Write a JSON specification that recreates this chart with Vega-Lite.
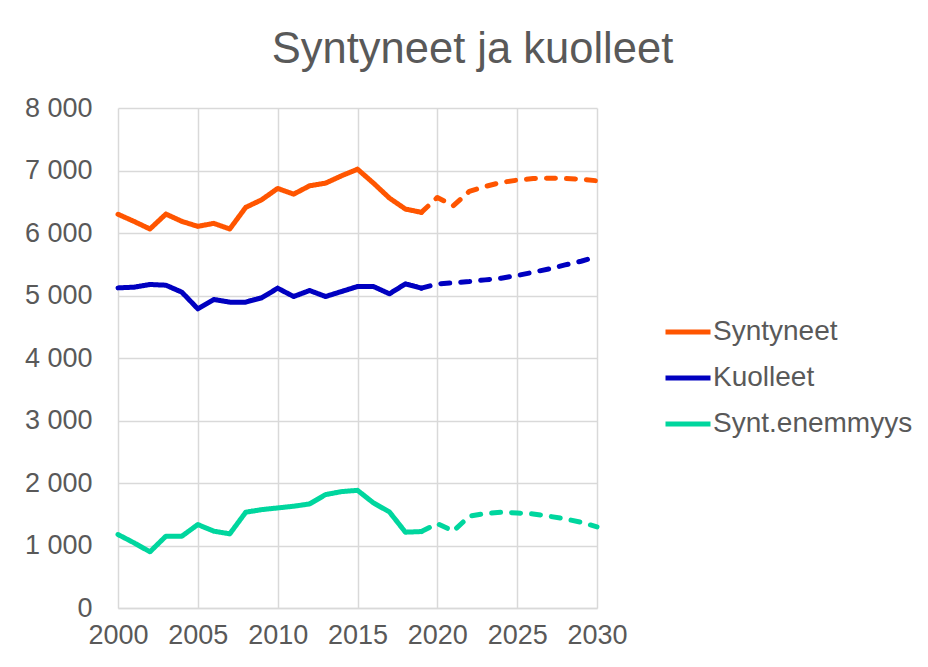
{
  "$schema": "https://vega.github.io/schema/vega-lite/v6.json",
  "width": 479,
  "height": 500,
  "autosize": {"type": "none"},
  "padding": {"left": 118, "top": 108, "right": 331, "bottom": 59},
  "background": "white",
  "title": {
    "text": "Syntyneet ja kuolleet",
    "font": "Liberation Sans",
    "fontSize": 43.5,
    "fontWeight": "normal",
    "color": "#595959",
    "anchor": "middle",
    "dx": 115,
    "offset": 22
  },
  "config": {
    "view": {"stroke": null},
    "font": "Liberation Sans"
  },
  "data": {
    "values": [
      {"year": 2000, "series": "Syntyneet", "kind": "a", "value": 6300},
      {"year": 2001, "series": "Syntyneet", "kind": "a", "value": 6186},
      {"year": 2002, "series": "Syntyneet", "kind": "a", "value": 6064},
      {"year": 2003, "series": "Syntyneet", "kind": "a", "value": 6303},
      {"year": 2004, "series": "Syntyneet", "kind": "a", "value": 6186},
      {"year": 2005, "series": "Syntyneet", "kind": "a", "value": 6106},
      {"year": 2006, "series": "Syntyneet", "kind": "a", "value": 6154},
      {"year": 2007, "series": "Syntyneet", "kind": "a", "value": 6064},
      {"year": 2008, "series": "Syntyneet", "kind": "a", "value": 6410},
      {"year": 2009, "series": "Syntyneet", "kind": "a", "value": 6532},
      {"year": 2010, "series": "Syntyneet", "kind": "a", "value": 6713},
      {"year": 2011, "series": "Syntyneet", "kind": "a", "value": 6622},
      {"year": 2012, "series": "Syntyneet", "kind": "a", "value": 6755},
      {"year": 2013, "series": "Syntyneet", "kind": "a", "value": 6798},
      {"year": 2014, "series": "Syntyneet", "kind": "a", "value": 6915},
      {"year": 2015, "series": "Syntyneet", "kind": "a", "value": 7021},
      {"year": 2016, "series": "Syntyneet", "kind": "a", "value": 6798},
      {"year": 2017, "series": "Syntyneet", "kind": "a", "value": 6559},
      {"year": 2018, "series": "Syntyneet", "kind": "a", "value": 6383},
      {"year": 2019, "series": "Syntyneet", "kind": "a", "value": 6330},
      {"year": 2019, "series": "Syntyneet", "kind": "f", "value": 6330},
      {"year": 2020, "series": "Syntyneet", "kind": "f", "value": 6569},
      {"year": 2021, "series": "Syntyneet", "kind": "f", "value": 6436},
      {"year": 2022, "series": "Syntyneet", "kind": "f", "value": 6665},
      {"year": 2023, "series": "Syntyneet", "kind": "f", "value": 6745},
      {"year": 2024, "series": "Syntyneet", "kind": "f", "value": 6809},
      {"year": 2025, "series": "Syntyneet", "kind": "f", "value": 6846},
      {"year": 2026, "series": "Syntyneet", "kind": "f", "value": 6872},
      {"year": 2027, "series": "Syntyneet", "kind": "f", "value": 6878},
      {"year": 2028, "series": "Syntyneet", "kind": "f", "value": 6872},
      {"year": 2029, "series": "Syntyneet", "kind": "f", "value": 6862},
      {"year": 2030, "series": "Syntyneet", "kind": "f", "value": 6835},
      {"year": 2000, "series": "Kuolleet", "kind": "a", "value": 5122},
      {"year": 2001, "series": "Kuolleet", "kind": "a", "value": 5133},
      {"year": 2002, "series": "Kuolleet", "kind": "a", "value": 5176},
      {"year": 2003, "series": "Kuolleet", "kind": "a", "value": 5165},
      {"year": 2004, "series": "Kuolleet", "kind": "a", "value": 5053},
      {"year": 2005, "series": "Kuolleet", "kind": "a", "value": 4787},
      {"year": 2006, "series": "Kuolleet", "kind": "a", "value": 4936},
      {"year": 2007, "series": "Kuolleet", "kind": "a", "value": 4894},
      {"year": 2008, "series": "Kuolleet", "kind": "a", "value": 4894},
      {"year": 2009, "series": "Kuolleet", "kind": "a", "value": 4963},
      {"year": 2010, "series": "Kuolleet", "kind": "a", "value": 5117},
      {"year": 2011, "series": "Kuolleet", "kind": "a", "value": 4984},
      {"year": 2012, "series": "Kuolleet", "kind": "a", "value": 5080},
      {"year": 2013, "series": "Kuolleet", "kind": "a", "value": 4984},
      {"year": 2014, "series": "Kuolleet", "kind": "a", "value": 5064},
      {"year": 2015, "series": "Kuolleet", "kind": "a", "value": 5144},
      {"year": 2016, "series": "Kuolleet", "kind": "a", "value": 5144},
      {"year": 2017, "series": "Kuolleet", "kind": "a", "value": 5027},
      {"year": 2018, "series": "Kuolleet", "kind": "a", "value": 5186},
      {"year": 2019, "series": "Kuolleet", "kind": "a", "value": 5117},
      {"year": 2019, "series": "Kuolleet", "kind": "f", "value": 5117},
      {"year": 2020, "series": "Kuolleet", "kind": "f", "value": 5186},
      {"year": 2021, "series": "Kuolleet", "kind": "f", "value": 5202},
      {"year": 2022, "series": "Kuolleet", "kind": "f", "value": 5223},
      {"year": 2023, "series": "Kuolleet", "kind": "f", "value": 5250},
      {"year": 2024, "series": "Kuolleet", "kind": "f", "value": 5277},
      {"year": 2025, "series": "Kuolleet", "kind": "f", "value": 5319},
      {"year": 2026, "series": "Kuolleet", "kind": "f", "value": 5372},
      {"year": 2027, "series": "Kuolleet", "kind": "f", "value": 5426},
      {"year": 2028, "series": "Kuolleet", "kind": "f", "value": 5489},
      {"year": 2029, "series": "Kuolleet", "kind": "f", "value": 5548},
      {"year": 2030, "series": "Kuolleet", "kind": "f", "value": 5622},
      {"year": 2000, "series": "Synt.enemmyys", "kind": "a", "value": 1176},
      {"year": 2001, "series": "Synt.enemmyys", "kind": "a", "value": 1043},
      {"year": 2002, "series": "Synt.enemmyys", "kind": "a", "value": 899},
      {"year": 2003, "series": "Synt.enemmyys", "kind": "a", "value": 1149},
      {"year": 2004, "series": "Synt.enemmyys", "kind": "a", "value": 1149},
      {"year": 2005, "series": "Synt.enemmyys", "kind": "a", "value": 1335},
      {"year": 2006, "series": "Synt.enemmyys", "kind": "a", "value": 1229},
      {"year": 2007, "series": "Synt.enemmyys", "kind": "a", "value": 1186},
      {"year": 2008, "series": "Synt.enemmyys", "kind": "a", "value": 1532},
      {"year": 2009, "series": "Synt.enemmyys", "kind": "a", "value": 1574},
      {"year": 2010, "series": "Synt.enemmyys", "kind": "a", "value": 1601},
      {"year": 2011, "series": "Synt.enemmyys", "kind": "a", "value": 1628},
      {"year": 2012, "series": "Synt.enemmyys", "kind": "a", "value": 1665},
      {"year": 2013, "series": "Synt.enemmyys", "kind": "a", "value": 1814},
      {"year": 2014, "series": "Synt.enemmyys", "kind": "a", "value": 1862},
      {"year": 2015, "series": "Synt.enemmyys", "kind": "a", "value": 1883},
      {"year": 2016, "series": "Synt.enemmyys", "kind": "a", "value": 1681},
      {"year": 2017, "series": "Synt.enemmyys", "kind": "a", "value": 1537},
      {"year": 2018, "series": "Synt.enemmyys", "kind": "a", "value": 1213},
      {"year": 2019, "series": "Synt.enemmyys", "kind": "a", "value": 1223},
      {"year": 2019, "series": "Synt.enemmyys", "kind": "f", "value": 1223},
      {"year": 2020, "series": "Synt.enemmyys", "kind": "f", "value": 1351},
      {"year": 2021, "series": "Synt.enemmyys", "kind": "f", "value": 1229},
      {"year": 2022, "series": "Synt.enemmyys", "kind": "f", "value": 1468},
      {"year": 2023, "series": "Synt.enemmyys", "kind": "f", "value": 1511},
      {"year": 2024, "series": "Synt.enemmyys", "kind": "f", "value": 1532},
      {"year": 2025, "series": "Synt.enemmyys", "kind": "f", "value": 1521},
      {"year": 2026, "series": "Synt.enemmyys", "kind": "f", "value": 1505},
      {"year": 2027, "series": "Synt.enemmyys", "kind": "f", "value": 1468},
      {"year": 2028, "series": "Synt.enemmyys", "kind": "f", "value": 1426},
      {"year": 2029, "series": "Synt.enemmyys", "kind": "f", "value": 1372},
      {"year": 2030, "series": "Synt.enemmyys", "kind": "f", "value": 1298}
    ]
  },
  "mark": {"type": "line", "strokeWidth": 5, "strokeCap": "round", "strokeJoin": "round"},
  "encoding": {
    "x": {
      "field": "year",
      "type": "quantitative",
      "scale": {"domain": [2000, 2030], "nice": false, "zero": false},
      "axis": {
        "title": null,
        "values": [2000, 2005, 2010, 2015, 2020, 2025, 2030],
        "format": "d",
        "labelOverlap": false,
        "labelBound": false,
        "labelFlush": false,
        "labelFont": "Liberation Sans",
        "labelFontSize": 27,
        "labelColor": "#595959",
        "labelPadding": 14,
        "ticks": false,
        "domainColor": "#D9D9D9",
        "domainWidth": 1.5,
        "gridColor": "#D9D9D9",
        "gridWidth": 1.5
      }
    },
    "y": {
      "field": "value",
      "type": "quantitative",
      "scale": {"domain": [0, 8000], "nice": false},
      "axis": {
        "title": null,
        "values": [0, 1000, 2000, 3000, 4000, 5000, 6000, 7000, 8000],
        "labelExpr": "replace(format(datum.value, ',d'), ',', ' ')",
        "labelOverlap": false,
        "labelFont": "Liberation Sans",
        "labelFontSize": 27,
        "labelColor": "#595959",
        "labelPadding": 26,
        "ticks": false,
        "domain": false,
        "gridColor": "#D9D9D9",
        "gridWidth": 1.5
      }
    },
    "color": {
      "field": "series",
      "type": "nominal",
      "scale": {
        "domain": ["Syntyneet", "Kuolleet", "Synt.enemmyys"],
        "range": ["#FF5500", "#0000C0", "#00D69E"]
      },
      "legend": {
        "title": null,
        "orient": "none",
        "legendX": 545,
        "legendY": 199,
        "symbolType": "stroke",
        "symbolSize": 2025,
        "symbolStrokeWidth": 5,
        "labelFont": "Liberation Sans",
        "labelFontSize": 28,
        "labelColor": "#595959",
        "labelOffset": 0,
        "labelLimit": 400,
        "rowPadding": 7
      }
    },
    "strokeDash": {
      "field": "kind",
      "type": "nominal",
      "scale": {"domain": ["a", "f"], "range": [[1, 0], [9, 11]]},
      "legend": null
    }
  }
}
